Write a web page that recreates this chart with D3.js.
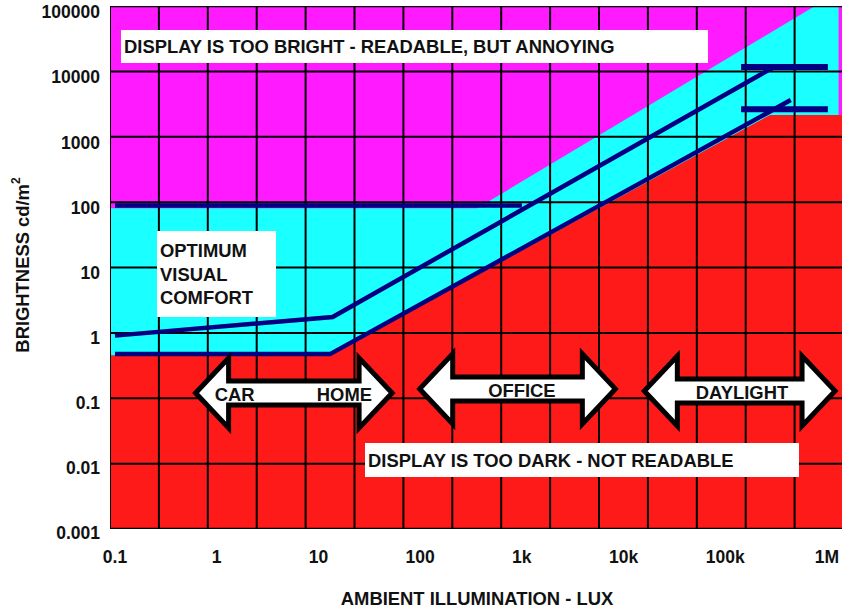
<!DOCTYPE html>
<html>
<head>
<meta charset="utf-8">
<script src="https://cdn.jsdelivr.net/npm/d3@7"></script>
<style>
  body { margin: 0; background: #fff; }
  svg { display: block; font-family: "Liberation Sans", Arial, sans-serif; font-weight: bold; }
</style>
</head>
<body>
<div id="chart"></div>
<script>
// ejes
const xTicks = [0.1, 1, 10, 100, 1e3, 1e4, 1e5, 1e6];
const xTickLabels = ["0.1", "1", "10", "100", "1k", "10k", "100k", "1M"];
const yTicks = [0.001, 0.01, 0.1, 1, 10, 100, 1000, 10000, 100000];
const yTickLabels = ["0.001", "0.01", "0.1", "1", "10", "100", "1000", "10000", "100000"];

// bordes de las zonas (lux, cd/m2)
const tooBrightEdge = [[0.05, 90], [363, 90], [1.3e6, 1.9e5]];
const tooDarkEdge = [[0.05, 0.5], [13, 0.5], [2.75e5, 2450], [3e6, 2450]];

// curvas
const upperLimit = [[0.1, 1], [13.8, 1.93], [2.9e5, 1.29e4]];
const lowerLimit = [[0.1, 0.52], [13, 0.52], [4.4e5, 4150]];
const comfortCeiling = [[0.1, 100], [1000, 100]];
const daylightBars = [
  { y: 13300, from: 1.43e5, to: 1.02e6 },
  { y: 3000, from: 1.43e5, to: 1.02e6 }
];

// rangos de iluminación
const ranges = [
  { from: 0.62, to: 53, at: 0.1315, labels: [{ text: "CAR", at: 1.5 }, { text: "HOME", at: 18 }] },
  { from: 99, to: 8300, at: 0.152, labels: [{ text: "OFFICE", at: 1000 }] },
  { from: 1.6e4, to: 1.2e6, at: 0.141, labels: [{ text: "DAYLIGHT", at: 1.46e5 }] }
];

const width = 842, height = 611;
const plot = { left: 110, right: 843.5, top: 6, bottom: 529 };
const gridCols = 15, gridRows = 8;
const labelSize = 18.4;

const x = d3.scaleLog().domain([0.1, 1e6]).range([115, 827]);
const y = d3.scaleLog().domain([0.001, 100000]).range([531, 10]);

const svg = d3.select("#chart").append("svg")
  .attr("width", width)
  .attr("height", height);

svg.append("clipPath").attr("id", "clip")
  .append("rect")
  .attr("x", plot.left).attr("y", plot.top)
  .attr("width", plot.right - plot.left).attr("height", plot.bottom - plot.top);

const area = svg.append("g").attr("clip-path", "url(#clip)");

// fondo magenta
area.append("rect")
  .attr("x", plot.left).attr("y", plot.top)
  .attr("width", plot.right - plot.left).attr("height", plot.bottom - plot.top)
  .attr("fill", "#ff1aff");

const poly = d3.line().x(d => x(d[0])).y(d => y(d[1]));
const closeDown = (pts) => pts.concat([[pts[pts.length - 1][0], 1e-4], [pts[0][0], 1e-4]]);

area.append("path")
  .attr("d", poly(closeDown(tooBrightEdge)) + "Z")
  .attr("fill", "#1affff");

area.append("path")
  .attr("d", poly(closeDown(tooDarkEdge)) + "Z")
  .attr("fill", "#ff1a1a");

// rejilla
const gx = d3.scaleLinear().domain([0, gridCols]).range([plot.left, plot.right]);
const gy = d3.scaleLinear().domain([0, gridRows]).range([plot.top, plot.bottom]);

area.append("g").selectAll("line")
  .data(d3.range(gridCols + 1))
  .join("line")
  .attr("x1", d => gx(d)).attr("x2", d => gx(d))
  .attr("y1", plot.top).attr("y2", plot.bottom)
  .attr("stroke", "#000").attr("stroke-width", 2);

area.append("g").selectAll("line")
  .data(d3.range(gridRows + 1))
  .join("line")
  .attr("x1", plot.left).attr("x2", plot.right)
  .attr("y1", d => gy(d)).attr("y2", d => gy(d))
  .attr("stroke", "#000").attr("stroke-width", d => (d === 0 || d === gridRows) ? 2.5 : 2);

// curvas azules
area.selectAll("path.limit")
  .data([upperLimit, lowerLimit, comfortCeiling])
  .join("path")
  .attr("class", "limit")
  .attr("d", poly)
  .attr("fill", "none")
  .attr("stroke", "#000080")
  .attr("stroke-width", 4.5);

area.selectAll("line.bar")
  .data(daylightBars)
  .join("line")
  .attr("class", "bar")
  .attr("x1", d => x(d.from)).attr("x2", d => x(d.to))
  .attr("y1", d => y(d.y)).attr("y2", d => y(d.y))
  .attr("stroke", "#000080")
  .attr("stroke-width", 6);

// cajas de texto
const boxes = [
  { x: 121, y: 30, w: 587, h: 33, lines: ["DISPLAY IS TOO BRIGHT - READABLE, BUT ANNOYING"] },
  { x: 157, y: 231, w: 119, h: 86, lines: ["OPTIMUM", "VISUAL", "COMFORT"] },
  { x: 365, y: 443, w: 434, h: 34, lines: ["DISPLAY IS TOO DARK - NOT READABLE"] }
];

boxes.forEach(b => {
  const g = svg.append("g");
  g.append("rect")
    .attr("x", b.x).attr("y", b.y).attr("width", b.w).attr("height", b.h)
    .attr("fill", "#fff");
  const lh = 23.5;
  const y0 = b.y + b.h / 2 - (b.lines.length - 1) * lh / 2;
  b.lines.forEach((t, i) => {
    g.append("text")
      .attr("x", b.x + 3)
      .attr("y", y0 + i * lh)
      .attr("dy", "0.36em")
      .attr("font-size", labelSize)
      .attr("fill", "#111")
      .text(t);
  });
});

// flechas dobles
const headLen = 33, headHalf = 35, shaftHalf = 12;
const arrowPath = (x0, x1, yc) => [
  [x0, yc], [x0 + headLen, yc - headHalf], [x0 + headLen, yc - shaftHalf],
  [x1 - headLen, yc - shaftHalf], [x1 - headLen, yc - headHalf], [x1, yc],
  [x1 - headLen, yc + headHalf], [x1 - headLen, yc + shaftHalf],
  [x0 + headLen, yc + shaftHalf], [x0 + headLen, yc + headHalf]
].map(p => p.join(",")).join(" ");

const arrows = svg.append("g").selectAll("g")
  .data(ranges)
  .join("g");

arrows.append("polygon")
  .attr("points", d => arrowPath(x(d.from), x(d.to), y(d.at)))
  .attr("fill", "#fff")
  .attr("stroke", "#000")
  .attr("stroke-width", 5)
  .attr("stroke-linejoin", "miter");

arrows.selectAll("text")
  .data(d => d.labels.map(l => ({ ...l, yc: y(d.at) })))
  .join("text")
  .attr("x", d => x(d.at))
  .attr("y", d => d.yc + 1)
  .attr("dy", "0.36em")
  .attr("text-anchor", "middle")
  .attr("font-size", labelSize)
  .attr("fill", "#111")
  .text(d => d.text);

// etiquetas de ejes
svg.append("g").selectAll("text")
  .data(xTicks)
  .join("text")
  .attr("x", d => x(d))
  .attr("y", 557)
  .attr("dy", "0.36em")
  .attr("text-anchor", "middle")
  .attr("font-size", 17.5)
  .attr("fill", "#111")
  .text((d, i) => xTickLabels[i]);

svg.append("g").selectAll("text")
  .data(yTicks)
  .join("text")
  .attr("x", 100)
  .attr("y", d => y(d) + 2)
  .attr("dy", "0.36em")
  .attr("text-anchor", "end")
  .attr("font-size", 17.5)
  .attr("fill", "#111")
  .text((d, i) => yTickLabels[i]);

svg.append("text")
  .attr("x", 477)
  .attr("y", 598)
  .attr("dy", "0.36em")
  .attr("text-anchor", "middle")
  .attr("font-size", labelSize)
  .attr("fill", "#111")
  .text("AMBIENT ILLUMINATION - LUX");

const yTitle = svg.append("text")
  .attr("transform", "translate(22,265) rotate(-90)")
  .attr("dy", "0.36em")
  .attr("text-anchor", "middle")
  .attr("font-size", labelSize)
  .attr("fill", "#111");
yTitle.append("tspan").text("BRIGHTNESS cd/m");
yTitle.append("tspan").attr("font-size", 12).attr("dy", "-0.7em").text("2");
</script>
</body>
</html>
